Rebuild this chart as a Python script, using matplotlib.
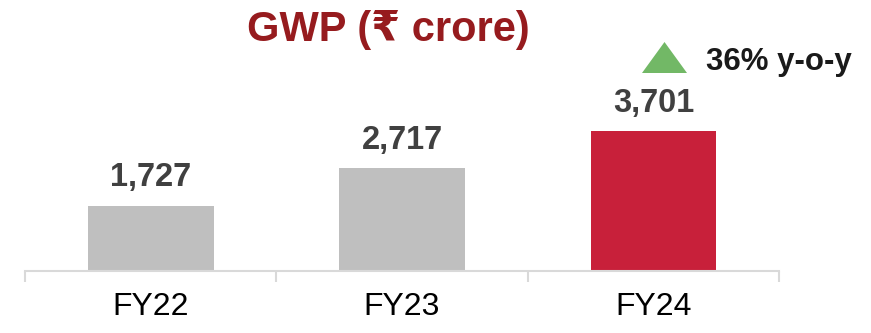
import matplotlib
matplotlib.use('Agg')
import matplotlib.pyplot as plt
from matplotlib.patches import Polygon

years = ["FY22", "FY23", "FY24"]
gwp = [1727, 2717, 3701]
bar_colors = ["#bfbfbf", "#bfbfbf", "#c8203a"]
growth_label = "36% y-o-y"

plt.rcParams['font.family'] = ['Liberation Sans', 'DejaVu Sans']

W, H = 871, 333
fig = plt.figure(figsize=(W / 100, H / 100), dpi=100)
# axes box in pixels: x 25..779, y 10..271 (from top)
ax = fig.add_axes([25 / W, 1 - 271 / H, 754 / W, 261 / H])

x = list(range(len(years)))
bars = ax.bar(x, gwp, width=0.5, color=bar_colors, zorder=2)
ax.set_xlim(-0.5, len(years) - 0.5)
ax.set_ylim(0, 6900)

for rect, v in zip(bars, gwp):
    ax.annotate(f"{v:,}", (rect.get_x() + rect.get_width() / 2, v),
                xytext=(0, 9), textcoords='offset points',
                ha='center', va='bottom', fontsize=23.5, fontweight='bold',
                color='#404040')

for s in ['top', 'left', 'right']:
    ax.spines[s].set_visible(False)
ax.spines['bottom'].set_color('#d9d9d9')
ax.spines['bottom'].set_linewidth(1.5)
ax.set_yticks([])
ax.set_xticks(x)
ax.set_xticklabels(years, fontsize=23)
ax.tick_params(axis='x', which='major', length=0, pad=15)
ax.set_xticks([i - 0.5 for i in range(len(years) + 1)], minor=True)
ax.tick_params(axis='x', which='minor', length=8, width=1.5, color='#d9d9d9')

fig.text(388 / W, 1 - 30 / H, "GWP (₹ crore)", ha='center', va='center',
         fontsize=30, fontweight='bold', color='#961b1e')

# growth marker
tri = Polygon([(642 / W, 1 - 73 / H), (687 / W, 1 - 73 / H), (664.5 / W, 1 - 42 / H)],
              closed=True, transform=fig.transFigure, facecolor='#72b866',
              edgecolor='none')
fig.patches.append(tri)
fig.text(706 / W, 1 - 62 / H, growth_label, ha='left', va='center',
         fontsize=22.5, fontweight='bold', color='#1a1a1a')

plt.savefig('out.png', dpi=100)
plt.close()
